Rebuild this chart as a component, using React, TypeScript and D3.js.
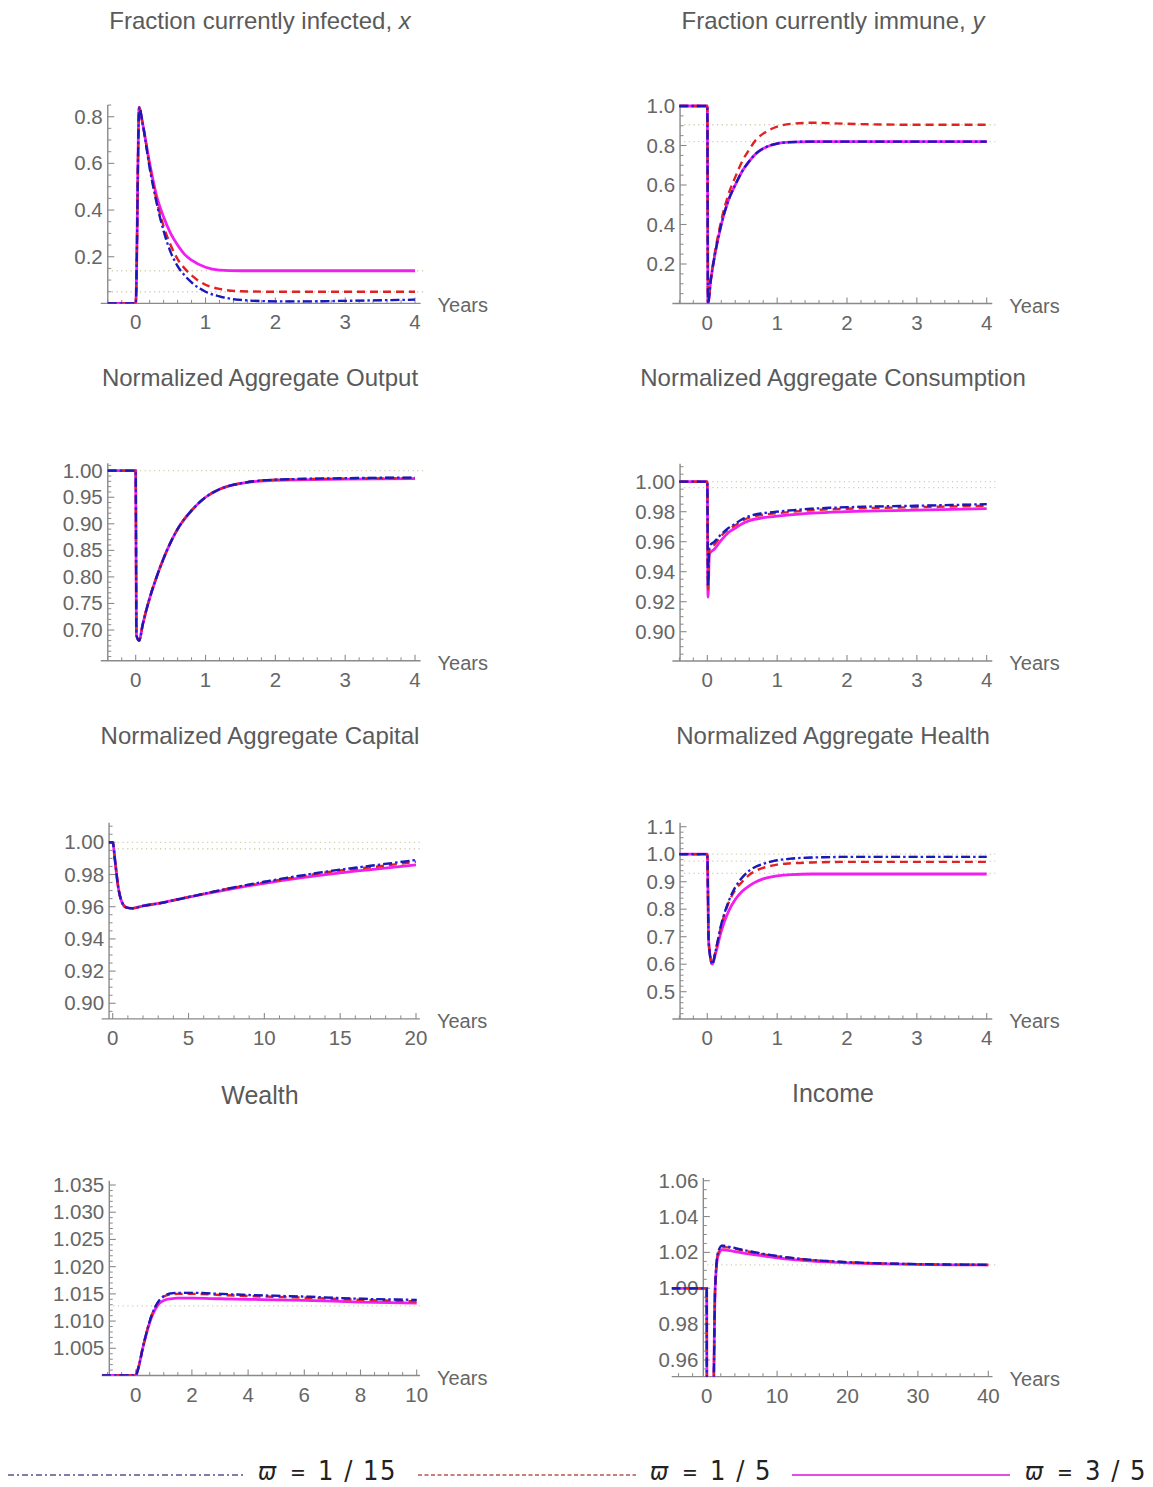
import React from 'react';
import * as d3 from 'd3';

const W = 1153;
const H = 1487;

// series order everywhere: [ϖ = 1/15, ϖ = 1/5, ϖ = 3/5]
const legendLabels = ['1 / 15', '1 / 5', '3 / 5'];

// Fraction currently infected, x
const tInf = [-0.4, 0, 0.05, 0.1, 0.2, 0.3, 0.4, 0.5, 0.6, 0.7, 0.8, 1.0, 1.2, 1.5, 2, 2.5, 3, 4];
const infA = [0, 0, 0.84, 0.77, 0.58, 0.43, 0.31, 0.22, 0.16, 0.12, 0.09, 0.05, 0.03, 0.015, 0.009, 0.009, 0.011, 0.016];
const infB = [0, 0, 0.84, 0.77, 0.59, 0.44, 0.33, 0.25, 0.19, 0.15, 0.12, 0.08, 0.062, 0.052, 0.05, 0.05, 0.05, 0.05];
const infC = [0, 0, 0.84, 0.77, 0.6, 0.46, 0.37, 0.3, 0.25, 0.21, 0.185, 0.155, 0.143, 0.14, 0.14, 0.14, 0.14, 0.14];

// Fraction currently immune, y
const tImm = [-0.4, 0, 0.01, 0.05, 0.1, 0.2, 0.3, 0.4, 0.5, 0.6, 0.7, 0.8, 1.0, 1.2, 1.5, 2, 3, 4];
const immA = [1, 1, 0, 0.12, 0.23, 0.4, 0.52, 0.6, 0.67, 0.72, 0.76, 0.785, 0.81, 0.817, 0.82, 0.82, 0.82, 0.82];
const immB = [1, 1, 0, 0.12, 0.24, 0.42, 0.55, 0.64, 0.72, 0.78, 0.83, 0.86, 0.895, 0.91, 0.915, 0.91, 0.905, 0.905];
const immC = [1, 1, 0, 0.12, 0.23, 0.4, 0.52, 0.6, 0.67, 0.72, 0.76, 0.785, 0.81, 0.817, 0.82, 0.82, 0.82, 0.82];

// Normalized Aggregate Output
const tOut = [-0.4, 0, 0.01, 0.05, 0.1, 0.2, 0.3, 0.4, 0.5, 0.6, 0.8, 1.0, 1.2, 1.5, 2, 3, 4];
const outA = [1, 1, 0.69, 0.68, 0.71, 0.76, 0.8, 0.835, 0.865, 0.89, 0.925, 0.95, 0.965, 0.976, 0.983, 0.986, 0.987];
const outB = [1, 1, 0.69, 0.68, 0.71, 0.76, 0.8, 0.835, 0.865, 0.89, 0.925, 0.95, 0.965, 0.976, 0.983, 0.985, 0.986];
const outC = [1, 1, 0.69, 0.68, 0.71, 0.76, 0.8, 0.835, 0.865, 0.89, 0.925, 0.95, 0.965, 0.976, 0.982, 0.984, 0.985];

// Normalized Aggregate Consumption
const tCon = [-0.4, 0, 0.01, 0.03, 0.1, 0.2, 0.3, 0.4, 0.5, 0.6, 0.8, 1.0, 1.5, 2, 3, 4];
const conA = [1, 1, 0.93, 0.957, 0.96, 0.965, 0.969, 0.972, 0.975, 0.977, 0.979, 0.98, 0.982, 0.983, 0.984, 0.985];
const conB = [1, 1, 0.928, 0.955, 0.958, 0.964, 0.968, 0.971, 0.974, 0.976, 0.978, 0.979, 0.981, 0.982, 0.983, 0.984];
const conC = [1, 1, 0.923, 0.952, 0.955, 0.961, 0.966, 0.969, 0.972, 0.974, 0.976, 0.977, 0.979, 0.98, 0.981, 0.982];

// Normalized Aggregate Capital
const tCap = [-0.25, 0, 0.15, 0.35, 0.6, 0.9, 1.3, 2, 3, 5, 7.5, 10, 12.5, 15, 17.5, 20];
const capA = [1, 1, 0.989, 0.973, 0.963, 0.9595, 0.959, 0.9605, 0.962, 0.966, 0.971, 0.9755, 0.9795, 0.983, 0.986, 0.989];
const capB = [1, 1, 0.989, 0.973, 0.963, 0.9595, 0.959, 0.9605, 0.962, 0.966, 0.971, 0.975, 0.979, 0.9825, 0.985, 0.988];
const capC = [1, 1, 0.989, 0.973, 0.963, 0.9595, 0.959, 0.9605, 0.962, 0.966, 0.9705, 0.9745, 0.978, 0.981, 0.9835, 0.986];

// Normalized Aggregate Health
const tHea = [-0.4, 0, 0.02, 0.07, 0.12, 0.2, 0.3, 0.4, 0.5, 0.6, 0.7, 0.8, 1.0, 1.2, 1.5, 2, 3, 4];
const heaA = [1, 1, 0.68, 0.6, 0.65, 0.745, 0.825, 0.88, 0.915, 0.94, 0.955, 0.965, 0.978, 0.984, 0.988, 0.99, 0.99, 0.99];
const heaB = [1, 1, 0.68, 0.6, 0.65, 0.74, 0.82, 0.87, 0.9, 0.925, 0.94, 0.95, 0.962, 0.967, 0.97, 0.972, 0.972, 0.972];
const heaC = [1, 1, 0.68, 0.6, 0.64, 0.72, 0.79, 0.835, 0.865, 0.885, 0.9, 0.91, 0.921, 0.926, 0.928, 0.928, 0.928, 0.928];

// Wealth
const tWea = [-1.2, 0, 0.1, 0.25, 0.4, 0.55, 0.7, 0.85, 1.0, 1.25, 1.5, 2, 3, 4, 6, 8, 10];
const weaA = [1, 1, 1.0015, 1.005, 1.0082, 1.0108, 1.0127, 1.0139, 1.0146, 1.0151, 1.0152, 1.0152, 1.015, 1.0148, 1.0145, 1.0141, 1.0139];
const weaB = [1, 1, 1.0015, 1.005, 1.0082, 1.0108, 1.0126, 1.0138, 1.0145, 1.0149, 1.015, 1.015, 1.0148, 1.0146, 1.0143, 1.0139, 1.0136];
const weaC = [1, 1, 1.0015, 1.005, 1.008, 1.0105, 1.0122, 1.0133, 1.0138, 1.0141, 1.0142, 1.0142, 1.0141, 1.014, 1.0138, 1.0135, 1.0133];

// Income
const tInc = [-5, 0, 0.05, 0.8, 1.2, 1.6, 2.2, 3, 5, 7.5, 10, 15, 20, 25, 30, 35, 40];
const incA = [1, 1, 0.9, 0.9, 1.0, 1.02, 1.0238, 1.0233, 1.0215, 1.0196, 1.018, 1.0158, 1.0146, 1.0139, 1.0135, 1.0132, 1.0131];
const incB = [1, 1, 0.9, 0.9, 1.0, 1.019, 1.023, 1.0228, 1.0212, 1.0193, 1.0178, 1.0157, 1.0145, 1.0138, 1.0134, 1.0132, 1.013];
const incC = [1, 1, 0.9, 0.9, 1.0, 1.018, 1.0215, 1.0212, 1.0198, 1.0183, 1.017, 1.0152, 1.0142, 1.0136, 1.0133, 1.0131, 1.013];

// tick labels
const xTicks4 = [0, 1, 2, 3, 4];
const xTicks20 = [0, 5, 10, 15, 20];
const xTicks10 = [0, 2, 4, 6, 8, 10];
const xTicks40 = [0, 10, 20, 30, 40];
const yTicksInf = [0.2, 0.4, 0.6, 0.8];
const yTicksImm = [0.2, 0.4, 0.6, 0.8, 1.0];
const yTicksOut = [0.7, 0.75, 0.8, 0.85, 0.9, 0.95, 1.0];
const yTicksCon = [0.9, 0.92, 0.94, 0.96, 0.98, 1.0];
const yTicksCap = [0.9, 0.92, 0.94, 0.96, 0.98, 1.0];
const yTicksHea = [0.5, 0.6, 0.7, 0.8, 0.9, 1.0, 1.1];
const yTicksWea = [1.005, 1.01, 1.015, 1.02, 1.025, 1.03, 1.035];
const yTicksInc = [0.96, 0.98, 1.0, 1.02, 1.04, 1.06];

// faint dotted steady-state guides
const refInf = [0.14, 0.05];
const refImm = [0.905, 0.82];
const refOut = [1.0];
const refCon = [1.0, 0.996];
const refCap = [1.0, 0.996];
const refHea = [1.0, 0.975, 0.93];
const refWea = [1.0128];
const refInc = [1.013];

const grey = '#666666';
const axisCol = '#8a8a8a';
const font = '"Liberation Sans", Arial, Helvetica, sans-serif';

const L = { xDom: [0, 4], xRng: [135.7, 415], xStart: -0.5, xEnd: 4.08, yAxisAt: -0.4, xMinor: 0.2, cx: 260 };
const R = { xDom: [0, 4], xRng: [707.3, 986.7], xStart: -0.5, xEnd: 4.08, yAxisAt: -0.39, xMinor: 0.2, cx: 833 };

const panels = [
  { ...L, title: 'Fraction currently infected, ', italic: 'x', ty: 29, t: tInf, s: [infA, infB, infC], xTicks: xTicks4, yTicks: yTicksInf, yDec: 1, yMinor: 0.05,
    yDom: [0, 0.8], yRng: [303.4, 116.7], yBottom: 0, yTop: 0.85, refs: refInf },
  { ...R, title: 'Fraction currently immune, ', italic: 'y', ty: 29, t: tImm, s: [immA, immB, immC], xTicks: xTicks4, yTicks: yTicksImm, yDec: 1, yMinor: 0.05,
    yDom: [0, 1], yRng: [303.5, 106], yBottom: 0, yTop: 1.003, refs: refImm },
  { ...L, title: 'Normalized Aggregate Output', ty: 386, t: tOut, s: [outA, outB, outC], xTicks: xTicks4, yTicks: yTicksOut, yDec: 2, yMinor: 0.01,
    yDom: [0.7, 1.0], yRng: [630, 470.7], yBottom: 0.642, yTop: 1.014, refs: refOut },
  { ...R, title: 'Normalized Aggregate Consumption', ty: 386, t: tCon, s: [conA, conB, conC], xTicks: xTicks4, yTicks: yTicksCon, yDec: 2, yMinor: 0.005,
    yDom: [0.9, 1.0], yRng: [631.7, 481.7], yBottom: 0.8805, yTop: 1.012, refs: refCon },
  { ...L, xDom: [0, 20], xRng: [112.7, 416], xStart: -0.73, xEnd: 20.26, yAxisAt: -0.24, xMinor: 1,
    title: 'Normalized Aggregate Capital', ty: 744, t: tCap, s: [capA, capB, capC], xTicks: xTicks20, yTicks: yTicksCap, yDec: 2, yMinor: 0.005,
    yDom: [0.9, 1.0], yRng: [1003.3, 842.3], yBottom: 0.8903, yTop: 1.0122, refs: refCap },
  { ...R, title: 'Normalized Aggregate Health', ty: 744, t: tHea, s: [heaA, heaB, heaC], xTicks: xTicks4, yTicks: yTicksHea, yDec: 1, yMinor: 0.02,
    yDom: [0.5, 1.1], yRng: [991.7, 826.7], yBottom: 0.4007, yTop: 1.1145, refs: refHea },
  { ...L, xDom: [0, 10], xRng: [135.7, 416.7], xStart: -1.21, xEnd: 10.12, yAxisAt: -0.94, xMinor: 0.5,
    title: 'Wealth', big: true, ty: 1104, t: tWea, s: [weaA, weaB, weaC], xTicks: xTicks10, yTicks: yTicksWea, yDec: 3, yMinor: 0.001,
    yDom: [1.005, 1.035], yRng: [1348.3, 1185], yBottom: 1.0, yTop: 1.0358, refs: refWea },
  { ...R, xDom: [0, 40], xRng: [706.7, 988.3], xStart: -4.97, xEnd: 40.6, yAxisAt: -0.48, xMinor: 2,
    title: 'Income', big: true, ty: 1102, t: tInc, s: [incA, incB, incC], xTicks: xTicks40, yTicks: yTicksInc, yDec: 2, yMinor: 0.005,
    yDom: [0.96, 1.06], yRng: [1360, 1180.7], yBottom: 0.9507, yTop: 1.0615, refs: refInc },
];

function steps(lo: number, hi: number, step: number) {
  const out: number[] = [];
  const k0 = Math.ceil(lo / step - 1e-7);
  const k1 = Math.floor(hi / step + 1e-7);
  for (let k = k0; k <= k1; k++) out.push(+(k * step).toFixed(8));
  return out;
}

function Panel({ p, idx }: { p: any; idx: number }) {
  const x = d3.scaleLinear().domain(p.xDom).range(p.xRng);
  const y = d3.scaleLinear().domain(p.yDom).range(p.yRng);
  const axY = y(p.yBottom);
  const yAxX = x(p.yAxisAt);
  const x0 = x(p.xStart);
  const x1 = x(p.xEnd);
  const fmt = d3.format(`.${p.yDec}f`);
  const line = d3.line<number>()
    .x((_, i) => x(p.t[i]))
    .y(d => y(d))
    .curve(d3.curveMonotoneX);

  const isMajor = (v: number, arr: number[]) => arr.some(a => Math.abs(a - v) < 1e-7);
  const xMinors = steps(p.xStart, p.xEnd, p.xMinor).filter(v => !isMajor(v, p.xTicks));
  const yMinors = steps(p.yBottom, p.yTop, p.yMinor).filter(v => !isMajor(v, p.yTicks) && v > p.yBottom + 1e-7);
  const clipId = `clip${idx}`;

  return (
    <g>
      <defs>
        <clipPath id={clipId}>
          <rect x={x0} y={y(p.yTop) - 20} width={x1 - x0 + 10} height={axY - y(p.yTop) + 20} />
        </clipPath>
      </defs>
      <text x={p.cx} y={p.ty} textAnchor="middle" fontFamily={font} fontSize={p.big ? 25 : 24} fill="#5a5a5a">
        {p.title}
        {p.italic && <tspan fontStyle="italic">{p.italic}</tspan>}
      </text>

      {p.refs.map((r: number, i: number) => (
        <line key={i} x1={yAxX + 4} x2={x1 + 3} y1={y(r)} y2={y(r)} stroke="#d2cdae" strokeWidth={1.3} strokeDasharray="1.2 3.5" />
      ))}

      {/* axes */}
      <line x1={x0} x2={x1} y1={axY} y2={axY} stroke={axisCol} strokeWidth={1.4} />
      <line x1={yAxX} x2={yAxX} y1={axY} y2={y(p.yTop)} stroke={axisCol} strokeWidth={1.4} />
      {p.xTicks.map((v: number) => (
        <g key={v}>
          <line x1={x(v)} x2={x(v)} y1={axY} y2={axY - 6} stroke={axisCol} strokeWidth={1.1} />
          <text x={x(v)} y={axY + 26} textAnchor="middle" fontFamily={font} fontSize={20.5} fill={grey}>{v}</text>
        </g>
      ))}
      {xMinors.map((v: number) => (
        <line key={v} x1={x(v)} x2={x(v)} y1={axY} y2={axY - 3.5} stroke={axisCol} strokeWidth={1} />
      ))}
      {p.yTicks.map((v: number) => (
        <g key={v}>
          <line x1={yAxX} x2={yAxX + 6.5} y1={y(v)} y2={y(v)} stroke={axisCol} strokeWidth={1.1} />
          <text x={yAxX - 5} y={y(v) + 7} textAnchor="end" fontFamily={font} fontSize={20.5} fill={grey}>{fmt(v)}</text>
        </g>
      ))}
      {yMinors.map((v: number) => (
        <line key={v} x1={yAxX} x2={yAxX + 3.5} y1={y(v)} y2={y(v)} stroke={axisCol} strokeWidth={1} />
      ))}
      <text x={x1 + 17} y={axY + 9} fontFamily={font} fontSize={20} fill={grey}>Years</text>

      {/* series: 3/5 magenta, 1/5 red dashed, 1/15 blue dash-dot */}
      <g clipPath={`url(#${clipId})`} fill="none">
        <path d={line(p.s[2]) || ''} stroke="#f01ef0" strokeWidth={2.8} />
        <path d={line(p.s[1]) || ''} stroke="#e02222" strokeWidth={2.4} strokeDasharray="8 5" />
        <path d={line(p.s[0]) || ''} stroke="#1e1ef0" strokeWidth={2.3} strokeDasharray="9 3 2.5 3" />
        <path d={line(p.s[0]) || ''} stroke="#10104a" strokeOpacity={0.35} strokeWidth={2.3} strokeDasharray="9 8.5" />
      </g>
    </g>
  );
}

const legendLines = [
  { x1: 8, x2: 243, tx: 258, stroke: '#54548c', dash: '6 3 2 3', w: 1.7 },
  { x1: 418, x2: 636, tx: 650, stroke: '#b5564e', dash: '4 2.5', w: 1.7 },
  { x1: 792, x2: 1010, tx: 1025, stroke: '#e54de5', dash: undefined, w: 2 },
];

const legendFont = '"DejaVu Sans Condensed", "Liberation Sans Narrow", "DejaVu Sans", sans-serif';

export default function App() {
  return (
    <svg width={W} height={H} style={{ position: 'absolute', left: 0, top: 0, background: '#fff' }}>
      {panels.map((p, i) => <Panel key={i} p={p} idx={i} />)}
      {legendLines.map((l, i) => (
        <g key={i} fill="#222" fontFamily={legendFont}>
          <line x1={l.x1} x2={l.x2} y1={1475} y2={1475} stroke={l.stroke} strokeWidth={l.w} strokeDasharray={l.dash} />
          <text x={l.tx} y={1480} fontStyle="italic" fontSize={24}>ϖ</text>
          <text x={l.tx + 32} y={1480} fontSize={21}>=</text>
          <text x={l.tx + 60} y={1480} fontSize={27} letterSpacing={1.5}>{legendLabels[i]}</text>
        </g>
      ))}
    </svg>
  );
}
